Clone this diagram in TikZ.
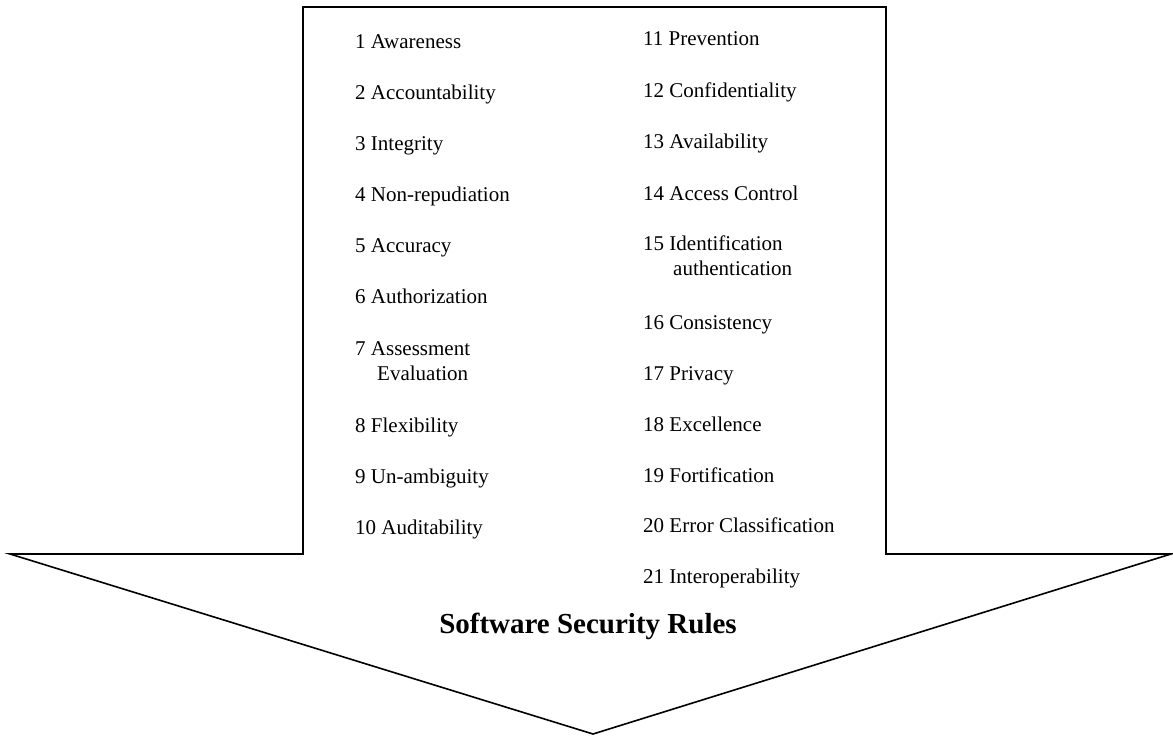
\documentclass[tikz,border=0pt]{standalone}
\usepackage{fontspec}
\setmainfont{Liberation Serif}
\begin{document}
\begin{tikzpicture}[x=1pt,y=-1pt,
  item/.style={anchor=base west,inner sep=0pt,font=\fontsize{21}{25}\selectfont,align=left},
  title/.style={anchor=base,inner sep=0pt,font=\fontsize{29}{34}\selectfont\bfseries},
  arrowshape/.style={draw=black,line width=1.6pt,line join=miter}]
\useasboundingbox (0,0) rectangle (1173,736);
% block arrow outline
\coordinate (tl) at (303,7);
\coordinate (tr) at (886,7);
\coordinate (rs) at (886,554);
\coordinate (rt) at (1171,554);
\coordinate (tip) at (593,734);
\coordinate (lt) at (10,554);
\coordinate (ls) at (303,554);
\draw[arrowshape] (tl) -- (tr) -- (rs) -- (rt) -- (tip) -- (lt) -- (ls) -- cycle;
% left column (two-line entries are placed by the baseline of their last line)
\node[item] (r1) at (355,48) {1 Awareness};
\node[item] (r2) at (355,99.5) {2 Accountability};
\node[item] (r3) at (355,150.5) {3 Integrity};
\node[item] (r4) at (355,201.5) {4 Non-repudiation};
\node[item] (r5) at (355,252) {5 Accuracy};
\node[item] (r6) at (355,303) {6 Authorization};
\node[item] (r7) at (355,380) {7 Assessment\\\hspace*{22pt}Evaluation};
\node[item] (r8) at (355,432) {8 Flexibility};
\node[item] (r9) at (355,483) {9 Un-ambiguity};
\node[item] (r10) at (355,534) {10 Auditability};
% right column
\node[item] (r11) at (643,45) {11 Prevention};
\node[item] (r12) at (643,97) {12 Confidentiality};
\node[item] (r13) at (643,148.5) {13 Availability};
\node[item] (r14) at (643,200) {14 Access Control};
\node[item] (r15) at (643,275) {15 Identification\\\hspace*{30pt}authentication};
\node[item] (r16) at (643,329) {16 Consistency};
\node[item] (r17) at (643,380) {17 Privacy};
\node[item] (r18) at (643,431) {18 Excellence};
\node[item] (r19) at (643,482) {19 Fortification};
\node[item] (r20) at (643,532) {20 Error Classification};
\node[item] (r21) at (643,583) {21 Interoperability};
% caption inside the arrow head
\node[title] (cap) at (588,633) {Software Security Rules};
\end{tikzpicture}
\end{document}
